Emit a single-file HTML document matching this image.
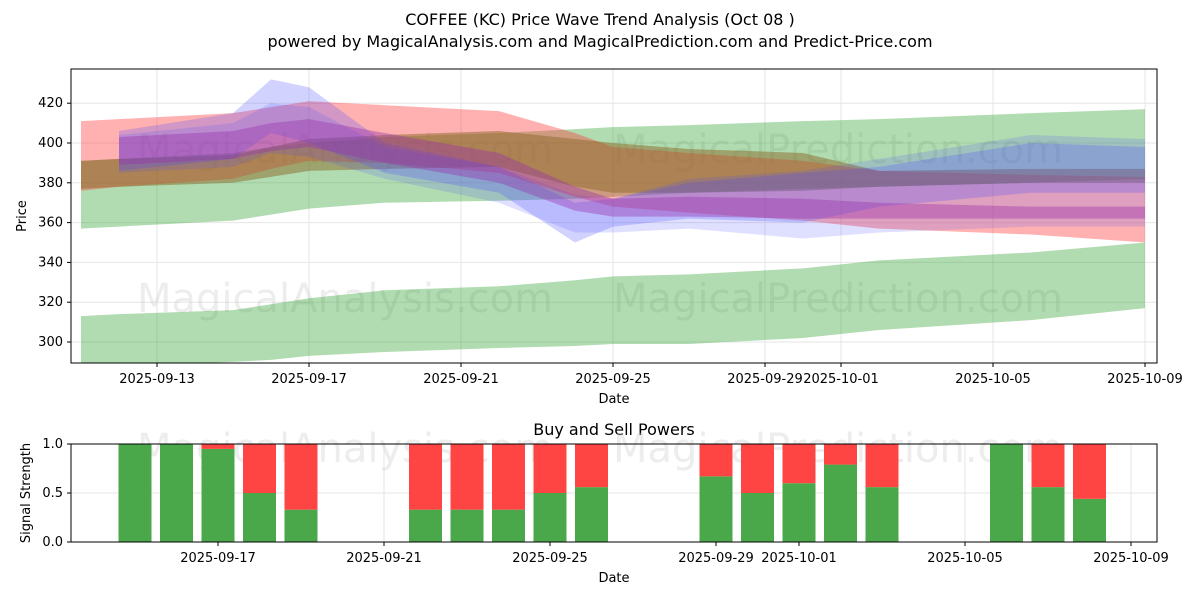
<!DOCTYPE html>
<html><head><meta charset="utf-8"><style>
body{margin:0;background:#fff;font-family:"Liberation Sans","DejaVu Sans",sans-serif}
svg text{font-family:"DejaVu Sans","Liberation Sans",sans-serif}
</style></head><body>
<svg id="c" width="1200" height="600" xmlns="http://www.w3.org/2000/svg">
<rect width="1200" height="600" fill="#fff"/>
<text x="600" y="25" text-anchor="middle" font-size="16">COFFEE (KC) Price Wave Trend Analysis (Oct 08 )</text>
<text x="600" y="47" text-anchor="middle" font-size="16">powered by MagicalAnalysis.com and MagicalPrediction.com and Predict-Price.com</text>
<g id="topg"></g>
<g id="botg"></g>
</svg>
<script>
// ---- data ----
const bandDates = ["2025-09-11","2025-09-12","2025-09-15","2025-09-16","2025-09-17","2025-09-19","2025-09-22","2025-09-24","2025-09-25","2025-09-27","2025-09-30","2025-10-02","2025-10-06","2025-10-09"];
const greenHiUpper = [391,392,395,398,400,403,405,407,408,409,411,412,415,417];
const greenHiLower = [357,358,361,364,367,370,371,372,373,375,377,378,380,382];
const greenLoUpper = [313,314,316,319,322,326,328,331,333,334,337,341,345,350];
const greenLoLower = [287,288,290,291,293,295,297,298,299,299,302,306,311,317];
const redUpper = [411,412,415,418,421,419,416,405,398,395,391,386,384,383];
const redLower = [376,378,382,387,391,390,385,373,368,365,361,357,354,350];
const brownUpper = [391,392,394,398,402,404,406,402,400,397,395,386,387,387];
const brownLower = [377,378,380,383,386,387,388,378,375,375,376,378,380,380];
const blueUpper = [404,406,415,432,428,400,388,370,372,380,385,388,400,398];
const blueLower = [385,386,392,405,400,385,375,350,358,362,360,368,375,375];
const blue2Upper = [402,404,410,420,418,398,388,374,372,382,386,392,404,402];
const blue2Lower = [384,385,388,395,393,382,370,355,355,357,352,355,358,358];
const purpleUpper = [402,403,406,410,412,405,395,378,372,373,372,370,368,368];
const purpleLower = [388,389,392,396,398,390,380,366,363,363,362,362,362,362];
const yTicks = [300,320,340,360,380,400,420];
const xTicks = ["2025-09-13","2025-09-17","2025-09-21","2025-09-25","2025-09-29","2025-10-01","2025-10-05","2025-10-09"];
const barDates = ["2025-09-15","2025-09-16","2025-09-17","2025-09-18","2025-09-19","2025-09-22","2025-09-23","2025-09-24","2025-09-25","2025-09-26","2025-09-29","2025-09-30","2025-10-01","2025-10-02","2025-10-03","2025-10-06","2025-10-07","2025-10-08"];
const buyPower = [1,1,0.95,0.5,0.33,0.33,0.33,0.33,0.5,0.56,0.67,0.5,0.6,0.79,0.56,1,0.56,0.44];
const bTicks = ["2025-09-17","2025-09-21","2025-09-25","2025-09-29","2025-10-01","2025-10-05","2025-10-09"];
const b2Ticks = [0,0.5,1];

const NS="http://www.w3.org/2000/svg";
function mk(t,a,p){const e=document.createElementNS(NS,t);for(const k in a)e.setAttribute(k,a[k]);p.appendChild(e);return e;}
const day=d=>(new Date(d+"T00:00:00Z")-new Date("2025-09-13T00:00:00Z"))/864e5;
const X=d=>157+38*day(d);
const Y=v=>342-(v-300)*1.99;
const L=71,R=1157,T=69,B=363;
const topG=document.getElementById('topg');
yTicks.forEach(v=>{const l=mk('line',{x1:L,x2:R,y1:Y(v),y2:Y(v),stroke:'#e6e6e6'},topG);


const t=mk('text',{x:L-8,y:Y(v)+4,'text-anchor':'end','font-size':13},topG);t.textContent=v;


mk('line',{x1:L-4,x2:L,y1:Y(v),y2:Y(v),stroke:'#000'},topG);});
xTicks.forEach(d=>{mk('line',{x1:X(d),x2:X(d),y1:T,y2:B,stroke:'#e6e6e6'},topG);
mk('line',{x1:X(d),x2:X(d),y1:B,y2:B+4,stroke:'#000'},topG);
const t=mk('text',{x:X(d),y:B+20,'text-anchor':'middle','font-size':13},topG);t.textContent=d;

});
[[345,312],[838,312],[345,163],[838,163]].forEach((p,i)=>{const w=mk('text',{x:p[0],y:p[1],'text-anchor':'middle','font-size':40,fill:'#ccc','fill-opacity':0.35},topG);w.textContent=i%2?'MagicalPrediction.com':'MagicalAnalysis.com';

});
const cp=mk('clipPath',{id:'cl'},topG);mk('rect',{x:L,y:T,width:R-L,height:B-T},cp);
const g=mk('g',{'clip-path':'url(#cl)'},topG);
function band(up,lo,col,op,name,dx){
 let pts=bandDates.map((d,i)=>[X(d)+(i==0?dx:0),Y(up[i])]);
 let pl=bandDates.map((d,i)=>[X(d)+(i==0?dx:0),Y(lo[i])]).reverse();
 const p=mk('polygon',{points:pts.concat(pl).map(p=>p.join(',')).join(' '),fill:col,'fill-opacity':op},g);
 
 }
band(greenHiUpper,greenHiLower,'#2ca02c',0.37,'green-band-upper',0);
band(greenLoUpper,greenLoLower,'#2ca02c',0.37,'green-band-lower',0);
band(redUpper,redLower,'#ff3333',0.38,'red-band',0);
band(brownUpper,brownLower,'#8b6a2a',0.5,'brown-band',0);
band(blue2Upper,blue2Lower,'#4d4dff',0.18,'blue-band-wide',38);
band(blueUpper,blueLower,'#4d4dff',0.25,'blue-band',38);
band(purpleUpper,purpleLower,'#9933aa',0.4,'purple-band',38);
mk('rect',{x:L,y:T,width:R-L,height:B-T,fill:'none',stroke:'#000'},topG);
let t=mk('text',{x:614,y:403,'text-anchor':'middle','font-size':13},topG);t.textContent='Date';
t=mk('text',{x:26,y:216,'text-anchor':'middle','font-size':13,transform:'rotate(-90 26 216)'},topG);t.textContent='Price';
const botG=document.getElementById('botg');
const BL=71,BR=1157,BT=444,BB=542;
const XB=d=>218+41.5*(day(d)-4);
const YB=v=>BB-(BB-BT)*v;
t=mk('text',{x:614,y:435,'text-anchor':'middle','font-size':16},botG);t.textContent='Buy and Sell Powers';
b2Ticks.forEach(v=>{mk('line',{x1:BL,x2:BR,y1:YB(v),y2:YB(v),stroke:'#e6e6e6'},botG);
mk('line',{x1:BL-4,x2:BL,y1:YB(v),y2:YB(v),stroke:'#000'},botG);
const tt=mk('text',{x:BL-8,y:YB(v)+4,'text-anchor':'end','font-size':13},botG);tt.textContent=v.toFixed(1);});
bTicks.forEach(d=>{mk('line',{x1:XB(d),x2:XB(d),y1:BT,y2:BB,stroke:'#e6e6e6'},botG);
mk('line',{x1:XB(d),x2:XB(d),y1:BB,y2:BB+4,stroke:'#000'},botG);
const tt=mk('text',{x:XB(d),y:BB+20,'text-anchor':'middle','font-size':13},botG);tt.textContent=d;});
[[345,462],[838,462]].forEach((p,i)=>{const w=mk('text',{x:p[0],y:p[1],'text-anchor':'middle','font-size':40,fill:'#ccc','fill-opacity':0.35},botG);w.textContent=i?'MagicalPrediction.com':'MagicalAnalysis.com';});
barDates.forEach((d,i)=>{const x=XB(d)-16.5;
 const gb=mk('rect',{x:x,y:YB(buyPower[i]),width:33,height:BB-YB(buyPower[i]),fill:'#4aa84a'},botG);
 
 
 const rb=mk('rect',{x:x,y:BT,width:33,height:YB(buyPower[i])-BT,fill:'#ff4444'},botG);
 
 });
mk('rect',{x:BL,y:BT,width:BR-BL,height:BB-BT,fill:'none',stroke:'#000'},botG);
t=mk('text',{x:614,y:582,'text-anchor':'middle','font-size':13},botG);t.textContent='Date';
t=mk('text',{x:30,y:493,'text-anchor':'middle','font-size':13,transform:'rotate(-90 30 493)'},botG);t.textContent='Signal Strength';
</script>
</body></html>
